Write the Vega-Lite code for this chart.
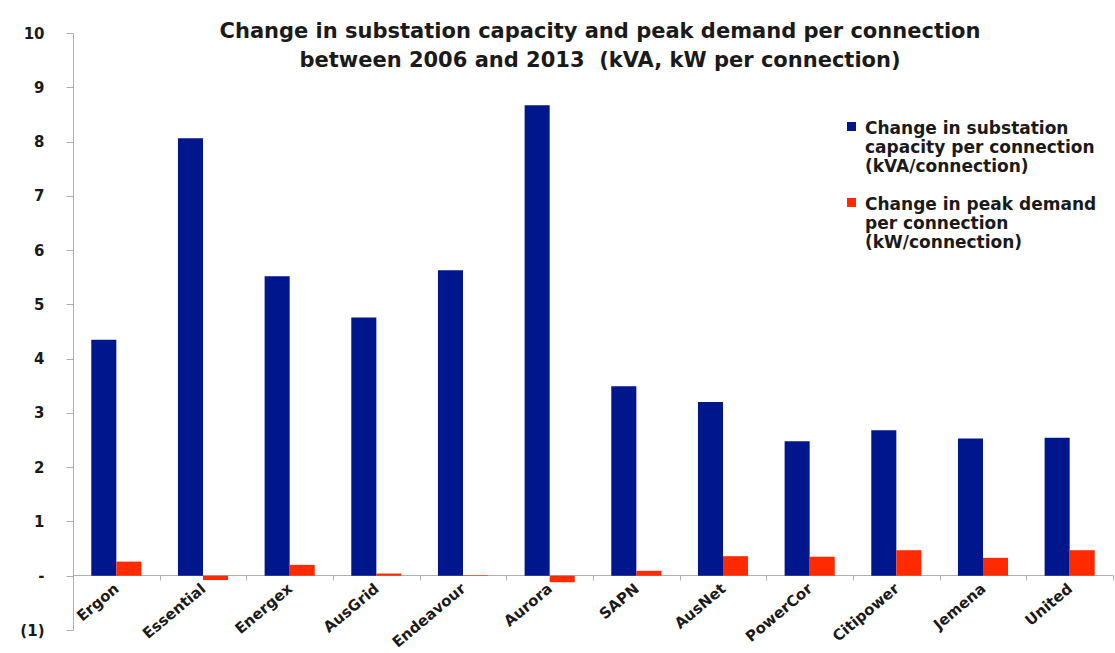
{
  "$schema": "https://vega.github.io/schema/vega-lite/v6.json",
  "width": 1040,
  "height": 597,
  "autosize": {"type": "none"},
  "padding": {"left": 73, "top": 33, "right": 2, "bottom": 23},
  "background": "white",
  "title": {
    "text": ["Change in substation capacity and peak demand per connection", "between 2006 and 2013\u00a0 (kVA, kW per connection)"],
    "font": "DejaVu Sans",
    "fontSize": 21,
    "fontWeight": "bold",
    "color": "#1a1a1a",
    "anchor": "middle",
    "frame": "group",
    "baseline": "top",
    "lineHeight": 29,
    "offset": -45,
    "dx": 7
  },
  "data": {
    "values": [
      {"dnsp": "Ergon", "series": "Change in substation|capacity per connection|(kVA/connection)", "value": 4.35},
      {"dnsp": "Essential", "series": "Change in substation|capacity per connection|(kVA/connection)", "value": 8.06},
      {"dnsp": "Energex", "series": "Change in substation|capacity per connection|(kVA/connection)", "value": 5.52},
      {"dnsp": "AusGrid", "series": "Change in substation|capacity per connection|(kVA/connection)", "value": 4.76},
      {"dnsp": "Endeavour", "series": "Change in substation|capacity per connection|(kVA/connection)", "value": 5.63},
      {"dnsp": "Aurora", "series": "Change in substation|capacity per connection|(kVA/connection)", "value": 8.67},
      {"dnsp": "SAPN", "series": "Change in substation|capacity per connection|(kVA/connection)", "value": 3.49},
      {"dnsp": "AusNet", "series": "Change in substation|capacity per connection|(kVA/connection)", "value": 3.2},
      {"dnsp": "PowerCor", "series": "Change in substation|capacity per connection|(kVA/connection)", "value": 2.48},
      {"dnsp": "Citipower", "series": "Change in substation|capacity per connection|(kVA/connection)", "value": 2.68},
      {"dnsp": "Jemena", "series": "Change in substation|capacity per connection|(kVA/connection)", "value": 2.53},
      {"dnsp": "United", "series": "Change in substation|capacity per connection|(kVA/connection)", "value": 2.54},
      {"dnsp": "Ergon", "series": "Change in peak demand|per connection|(kW/connection)", "value": 0.26},
      {"dnsp": "Essential", "series": "Change in peak demand|per connection|(kW/connection)", "value": -0.08},
      {"dnsp": "Energex", "series": "Change in peak demand|per connection|(kW/connection)", "value": 0.2},
      {"dnsp": "AusGrid", "series": "Change in peak demand|per connection|(kW/connection)", "value": 0.04},
      {"dnsp": "Endeavour", "series": "Change in peak demand|per connection|(kW/connection)", "value": 0.01},
      {"dnsp": "Aurora", "series": "Change in peak demand|per connection|(kW/connection)", "value": -0.12},
      {"dnsp": "SAPN", "series": "Change in peak demand|per connection|(kW/connection)", "value": 0.09},
      {"dnsp": "AusNet", "series": "Change in peak demand|per connection|(kW/connection)", "value": 0.36},
      {"dnsp": "PowerCor", "series": "Change in peak demand|per connection|(kW/connection)", "value": 0.35},
      {"dnsp": "Citipower", "series": "Change in peak demand|per connection|(kW/connection)", "value": 0.47},
      {"dnsp": "Jemena", "series": "Change in peak demand|per connection|(kW/connection)", "value": 0.33},
      {"dnsp": "United", "series": "Change in peak demand|per connection|(kW/connection)", "value": 0.47}
    ]
  },
  "mark": {"type": "bar"},
  "encoding": {
    "x": {
      "field": "dnsp",
      "type": "nominal",
      "sort": null,
      "scale": {"paddingInner": 0, "paddingOuter": 0},
      "axis": {
        "title": null,
        "offset": -55,
        "domainColor": "#b0b0b0",
        "tickColor": "#b0b0b0",
        "tickBand": "extent",
        "tickSize": 5,
        "labelAngle": -40,
        "labelAlign": "right",
        "labelBaseline": "middle",
        "labelPadding": 6,
        "labelFont": "DejaVu Sans",
        "labelFontSize": 15,
        "labelFontWeight": "bold",
        "labelColor": "#1a1a1a",
        "grid": false
      }
    },
    "xOffset": {
      "field": "series",
      "type": "nominal",
      "sort": null,
      "scale": {"paddingInner": 0, "paddingOuter": 0.73}
    },
    "y": {
      "field": "value",
      "type": "quantitative",
      "scale": {"domain": [-1, 10], "nice": false, "zero": false},
      "axis": {
        "title": null,
        "values": [-1, 0, 1, 2, 3, 4, 5, 6, 7, 8, 9, 10],
        "labelExpr": "datum.value == 0 ? '-' : datum.value < 0 ? '(' + (-datum.value) + ')' : datum.label",
        "domainColor": "#b0b0b0",
        "tickColor": "#b0b0b0",
        "tickSize": 7,
        "labelPadding": 22,
        "labelFont": "DejaVu Sans",
        "labelFontSize": 15,
        "labelFontWeight": "bold",
        "labelColor": "#1a1a1a",
        "grid": false
      }
    },
    "color": {
      "field": "series",
      "type": "nominal",
      "sort": null,
      "scale": {
        "domain": ["Change in substation|capacity per connection|(kVA/connection)", "Change in peak demand|per connection|(kW/connection)"],
        "range": ["#00168C", "#FF2A00"]
      },
      "legend": {
        "title": null,
        "orient": "none",
        "legendX": 770,
        "legendY": 79,
        "padding": 0,
        "symbolType": "M-1,0.33H1V2.33H-1Z",
        "symbolSize": 81,
        "symbolStrokeWidth": 0,
        "labelExpr": "split(datum.label, '|')",
        "labelBaseline": "top",
        "labelFont": "DejaVu Sans",
        "labelFontSize": 17,
        "labelFontWeight": "bold",
        "labelColor": "#1a1a1a",
        "labelOffset": 5,
        "labelLimit": 400,
        "rowPadding": 13
      }
    }
  },
  "config": {
    "view": {"stroke": null}
  }
}
